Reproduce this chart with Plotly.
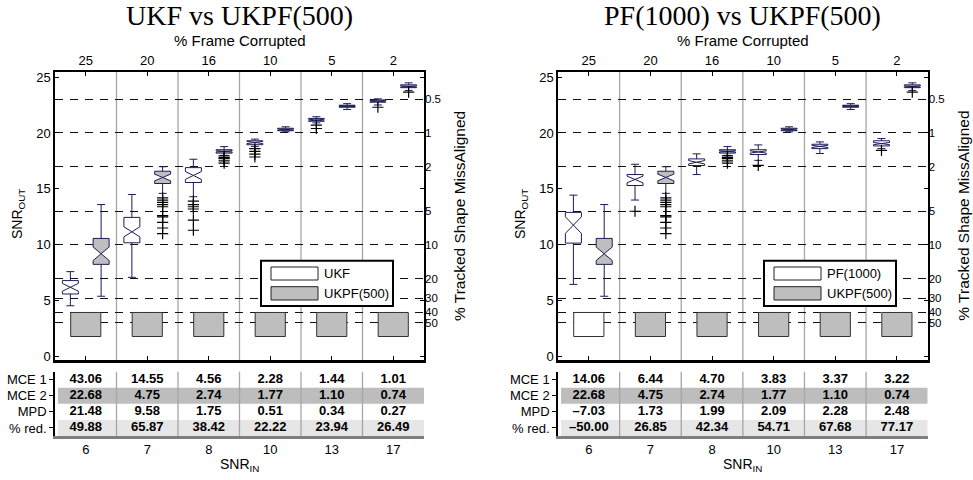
import numpy as np
import plotly.graph_objects as go

# ---------------------------------------------------------------- data
snr_in = ["6", "7", "8", "10", "13", "17"]
frame_corrupted = ["25", "20", "16", "10", "5", "2"]
miss_ticks = [0.5, 1, 2, 5, 10, 20, 30, 40, 50]
row_labels = ["MCE 1", "MCE 2", "MPD", "% red."]

# SNR_OUT box statistics per input SNR level
ukf_lo = [4.55, 7.09, 14.3, 18.8, 20.9, 22.5]
ukf_q1 = [5.6, 10.18, 15.57, 18.95, 21.05, 22.75]
ukf_med = [6.2, 11.16, 16.2, 19.15, 21.15, 22.85]
ukf_q3 = [6.8, 12.45, 16.9, 19.3, 21.3, 22.95]
ukf_hi = [7.6, 14.5, 17.65, 19.45, 21.45, 23.05]
ukf_notch = [0.35, 0.45, 0.35, 0.1, 0.08, 0.07]
ukf_out = [[], [], [13.9, 13.6, 13.4, 13.2, 12.2, 11.3],
           [18.6, 18.35, 18.1, 17.85], [20.7, 20.4], [22.3]]

ukpf_lo = [5.4, 14.6, 18.0, 20.1, 22.1, 23.8]
ukpf_q1 = [8.25, 15.48, 18.2, 20.2, 22.3, 24.05]
ukpf_med = [9.2, 16.02, 18.35, 20.3, 22.4, 24.15]
ukpf_q3 = [10.57, 16.58, 18.5, 20.42, 22.48, 24.3]
ukpf_hi = [13.6, 16.98, 18.78, 20.55, 22.62, 24.48]
ukpf_notch = [0.6, 0.3, 0.05, 0.05, 0.04, 0.05]
ukpf_out = [[], [14.2, 14.0, 13.8, 13.6, 13.4, 12.6, 12.5, 12.0, 11.5, 11.0],
            [17.95, 17.8, 17.7, 17.5, 17.3], [], [], [23.65]]

pf_lo = [6.46, 14.0, 16.28, 17.55, 18.16, 18.6]
pf_q1 = [10.15, 15.3, 17.09, 18.07, 18.6, 18.84]
pf_med = [11.76, 15.84, 17.38, 18.3, 18.8, 19.05]
pf_q3 = [12.9, 16.28, 17.68, 18.5, 18.99, 19.3]
pf_hi = [14.44, 17.2, 18.13, 18.93, 19.2, 19.5]
pf_notch = [0.74, 0.3, 0.15, 0.1, 0.1, 0.1]
pf_out = [[], [13.0], [], [17.1], [], [18.45]]

# misalignment blocks (SNR_OUT scale) and which filter they belong to
miss_lo = [1.8, 1.8, 1.8, 1.8, 1.8, 1.8]
miss_hi = [3.95, 3.95, 3.95, 3.95, 3.95, 3.95]
miss_owner_left = ["UKPF(500)"] * 6
miss_owner_right = ["PF(1000)", "UKPF(500)", "UKPF(500)", "UKPF(500)",
                    "UKPF(500)", "UKPF(500)"]

# summary tables
left_mce1 = [43.06, 14.55, 4.56, 2.28, 1.44, 1.01]
left_mce2 = [22.68, 4.75, 2.74, 1.77, 1.10, 0.74]
left_mpd = [21.48, 9.58, 1.75, 0.51, 0.34, 0.27]
left_red = [49.88, 65.87, 38.42, 22.22, 23.94, 26.49]

right_mce1 = [14.06, 6.44, 4.70, 3.83, 3.37, 3.22]
right_mce2 = [22.68, 4.75, 2.74, 1.77, 1.10, 0.74]
right_mpd = [-7.03, 1.73, 1.99, 2.09, 2.28, 2.48]
right_red = [-50.00, 26.85, 42.34, 54.71, 67.68, 77.17]

# ---------------------------------------------------------------- style
W, H = 973, 480
FONT = "Liberation Sans"
SERIF = "Liberation Serif"
GRAY = "#bebebe"
EDGE = "#1c1c58"
SEP = "#a6a6a6"
ROW_DARK = "#bdbdbd"
ROW_LIGHT = "#e6e6e6"
tick_font = dict(family=FONT, size=12, color="black")


def px(x):
    return x / W


def py(y):
    return 1 - y / H


pos = np.arange(1, 7)
plot_dom_y = [py(360), py(72)]
table_dom_y = [py(436), py(371.7)]
y_range = [-0.3, 25.45]
miss_pos = [20 - 10 * np.log10(p) for p in miss_ticks]

fig = go.Figure()
shapes = []
annotations = []


def fmt(v):
    s = f"{abs(v):.2f}"
    return ("\u2013" + s) if v < 0 else s


def add_panel(k, title, name_a, a, b, owners, table, x0px, x1px):
    n = "" if k == 0 else "2"
    xa, ya = "x" + n, "y" + n
    xt, yr = ("x3", "y3") if k == 0 else ("x4", "y4")
    xtab, ytab = ("x5", "y5") if k == 0 else ("x6", "y6")

    # misalignment blocks
    fig.add_trace(go.Bar(
        x=pos, y=np.array(miss_hi) - np.array(miss_lo), base=miss_lo,
        width=0.49,
        marker=dict(color=["white" if o != "UKPF(500)" else GRAY for o in owners],
                    line=dict(color="#333333", width=1)),
        xaxis=xa, yaxis=ya, showlegend=False, hoverinfo="skip"))

    for stats, off, fill in [(a, -0.25, "white"), (b, 0.25, GRAY)]:
        lo, q1, med, q3, hi, notch, out = stats
        fig.add_trace(go.Box(
            x=list(pos + off), q1=q1, median=med, q3=q3,
            lowerfence=lo, upperfence=hi, notchspan=notch,
            notched=True, notchwidth=0.5, width=0.26, whiskerwidth=0.5,
            fillcolor=fill, line=dict(color=EDGE, width=1),
            boxpoints=False, xaxis=xa, yaxis=ya,
            showlegend=False, hoverinfo="skip"))
        ox = [p + off for p, o in zip(pos, out) for _ in o]
        oy = [v for o in out for v in o]
        fig.add_trace(go.Scatter(
            x=ox, y=oy, mode="markers",
            marker=dict(symbol="cross-thin", size=8, color="black",
                        line=dict(color="black", width=1.2)),
            xaxis=xa, yaxis=ya, showlegend=False, hoverinfo="skip"))

    # overlay axes anchor trace
    fig.add_trace(go.Scatter(x=[1], y=[10], mode="markers",
                             marker=dict(opacity=0), xaxis=xt, yaxis=yr,
                             showlegend=False, hoverinfo="skip"))

    # table values
    tx, ty, tt = [], [], []
    for r, vals in enumerate(table, start=1):
        for p, v in zip(pos, vals):
            tx.append(p)
            ty.append(r)
            tt.append(fmt(v))
    fig.add_trace(go.Scatter(
        x=tx, y=ty, text=tt, mode="text",
        textfont=dict(family=FONT, size=13, color="black", weight="bold"),
        xaxis=xtab, yaxis=ytab, showlegend=False, hoverinfo="skip"))

    # group separators
    for bnd in pos[:-1] + 0.5:
        shapes.append(dict(type="line", xref=xa, yref=ya + " domain",
                           x0=bnd, x1=bnd, y0=0, y1=1, layer="below",
                           line=dict(color=SEP, width=1.3)))
        shapes.append(dict(type="line", xref=xtab, yref=ytab + " domain",
                           x0=bnd, x1=bnd, y0=0, y1=1, layer="above",
                           line=dict(color=SEP, width=1.3)))
    # table row shading
    for r, col in [(2, ROW_DARK), (4, ROW_LIGHT)]:
        shapes.append(dict(type="rect", xref=xtab, yref=ytab,
                           x0=0.55, x1=6.5, y0=r - 0.5, y1=r + 0.5,
                           fillcolor=col, line=dict(width=0), layer="below"))

    # legend
    dx = x0px - 55
    shapes.append(dict(type="rect", xref="paper", yref="paper",
                       x0=px(261 + dx), x1=px(393 + dx), y0=py(306), y1=py(260.7),
                       fillcolor="white", line=dict(color="black", width=2)))
    for (ytop, ybot), fill, name in [((267, 280), "white", name_a),
                                     ((286.7, 300), GRAY, "UKPF(500)")]:
        shapes.append(dict(type="rect", xref="paper", yref="paper",
                           x0=px(271 + dx), x1=px(318 + dx), y0=py(ybot), y1=py(ytop),
                           fillcolor=fill, line=dict(color="#222222", width=1)))
        annotations.append(dict(text=name, xref="paper", yref="paper",
                                x=px(322 + dx), y=py((ytop + ybot) / 2),
                                xanchor="left", yanchor="middle", showarrow=False,
                                font=dict(family=FONT, size=13, color="black")))

    cx = (x0px + x1px) / 2
    annotations.extend([
        dict(text=title, x=px(cx), y=py(16), xref="paper", yref="paper",
             showarrow=False, xanchor="center", yanchor="middle",
             font=dict(family=SERIF, size=28, color="black")),
        dict(text="% Frame Corrupted", x=px(cx), y=py(40), xref="paper",
             yref="paper", showarrow=False, xanchor="center", yanchor="middle",
             font=dict(family=FONT, size=15, color="black")),
        dict(text="SNR<sub>IN</sub>", x=px(cx), y=py(465), xref="paper",
             yref="paper", showarrow=False, xanchor="center", yanchor="middle",
             font=dict(family=FONT, size=14, color="black")),
        dict(text="SNR<sub>OUT</sub>", x=px(x0px - 37), y=py(214), xref="paper",
             yref="paper", showarrow=False, xanchor="center", yanchor="middle",
             textangle=-90, font=dict(family=FONT, size=14, color="black")),
        dict(text="% Tracked Shape MissAligned", x=px(x1px + 36), y=py(216),
             xref="paper", yref="paper", showarrow=False, xanchor="center",
             yanchor="middle", textangle=-90,
             font=dict(family=FONT, size=15.5, color="black")),
    ])


add_panel(0, "UKF vs UKPF(500)", "UKF",
          (ukf_lo, ukf_q1, ukf_med, ukf_q3, ukf_hi, ukf_notch, ukf_out),
          (ukpf_lo, ukpf_q1, ukpf_med, ukpf_q3, ukpf_hi, ukpf_notch, ukpf_out),
          miss_owner_left, [left_mce1, left_mce2, left_mpd, left_red], 55, 424)
add_panel(1, "PF(1000) vs UKPF(500)", "PF(1000)",
          (pf_lo, pf_q1, pf_med, pf_q3, pf_hi, pf_notch, pf_out),
          (ukpf_lo, ukpf_q1, ukpf_med, ukpf_q3, ukpf_hi, ukpf_notch, ukpf_out),
          miss_owner_right, [right_mce1, right_mce2, right_mpd, right_red],
          558, 927.7)

# ---------------------------------------------------------------- axes
base = dict(showgrid=False, zeroline=False, tickfont=tick_font,
            tickcolor="black", linecolor="black", automargin=False)
xdoms = [[px(55), px(424)], [px(558), px(927.7)]]
layout_axes = {}
for k in range(2):
    n = "" if k == 0 else "2"
    xt, yr = ("xaxis3", "yaxis3") if k == 0 else ("xaxis4", "yaxis4")
    xtab, ytab = ("xaxis5", "yaxis5") if k == 0 else ("xaxis6", "yaxis6")
    layout_axes["xaxis" + n] = dict(
        base, domain=xdoms[k], anchor="y" + n, range=[0.5, 6.5],
        tickvals=list(pos), showticklabels=False, ticks="inside", ticklen=4,
        showline=True, linewidth=2.5)
    layout_axes["yaxis" + n] = dict(
        base, domain=plot_dom_y, anchor="x" + n, range=y_range,
        tickvals=[0, 5, 10, 15, 20, 25], ticks="inside", ticklen=4,
        showline=True, linewidth=1.5, mirror="ticks",
        tickfont=dict(family=FONT, size=13, color="black"))
    layout_axes[xt] = dict(
        base, overlaying="x" + n, side="top", anchor="y" + n, range=[0.5, 6.5],
        tickvals=list(pos), ticktext=frame_corrupted, ticks="inside", ticklen=4,
        showline=True, linewidth=1.5,
        tickfont=dict(family=FONT, size=13, color="black"))
    layout_axes[yr] = dict(
        base, overlaying="y" + n, side="right", anchor="x" + n, range=y_range,
        tickvals=miss_pos, ticktext=[f"{p:g}" for p in miss_ticks], ticks="",
        showline=False, showgrid=True, gridcolor="#111111", gridwidth=1.2,
        griddash="8px,7px", tickfont=dict(family=FONT, size=11.5, color="black"))
    layout_axes[xtab] = dict(
        base, domain=xdoms[k], anchor=ytab.replace("axis", ""), range=[0.5, 6.5],
        tickvals=list(pos), ticktext=snr_in, ticks="", showline=True,
        linecolor="#7f7f7f", linewidth=2.5,
        tickfont=dict(family=FONT, size=13, color="black"))
    layout_axes[ytab] = dict(
        base, domain=table_dom_y, anchor=xtab.replace("axis", ""),
        range=[4.5, 0.5], tickvals=[1, 2, 3, 4], ticktext=row_labels,
        ticks="outside", ticklen=4, showline=True, linewidth=1.5,
        tickfont=dict(family=FONT, size=13, color="black"))

fig.update_layout(
    width=W, height=H, autosize=False,
    margin=dict(l=0, r=0, t=0, b=0),
    paper_bgcolor="white", plot_bgcolor="white",
    showlegend=False, template="none",
    font=dict(family=FONT, color="black"),
    shapes=shapes, annotations=annotations,
    **layout_axes,
)

fig.write_html("out.html")
